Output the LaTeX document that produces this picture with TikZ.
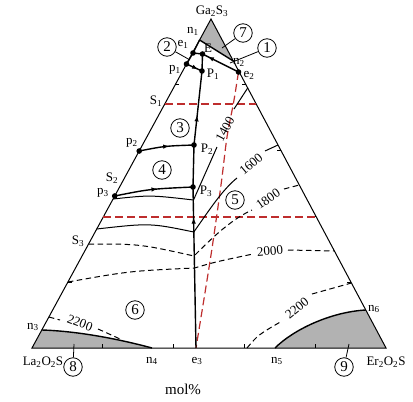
\documentclass[tikz,border=0pt]{standalone}
\usepackage{fontspec}
\setmainfont{Liberation Serif}
\usetikzlibrary{arrows.meta,calc,decorations.markings}
\definecolor{refred}{RGB}{190,45,45}

\begin{document}
\begin{tikzpicture}[x=1pt,y=-1pt,
  every node/.style={font=\fontsize{13}{13}\selectfont, inner sep=1pt},
  fld/.style={draw, circle, line width=0.8pt, inner sep=0pt, minimum size=18.5pt, font=\fontsize{15}{15}\selectfont},
  side/.style={line width=1pt},
  bnd/.style={line width=1.4pt},
  iso/.style={line width=1pt},
  isod/.style={line width=1pt, dash pattern=on 5.5pt off 3.5pt},
  refl/.style={refred, line width=1.2pt, dash pattern=on 8pt off 4pt},
  upar/.style={postaction={decorate}, decoration={markings, mark=at position #1 with {\arrow{Latex[length=6pt,width=4.5pt]}}}}]
\useasboundingbox (0,0) rectangle (413,402);

% corners and invariant points
\coordinate (Ga) at (211,19);
\coordinate (La) at (32,348);
\coordinate (Er) at (386,348);
\coordinate (n1) at (199.6,40);
\coordinate (n2) at (233.3,61);
\coordinate (e1) at (193,53);
\coordinate (E) at (202.5,54);
\coordinate (e2) at (238.5,72);
\coordinate (p1) at (186.5,64);
\coordinate (P1) at (202,71);
\coordinate (p2) at (139.2,151);
\coordinate (P2) at (194,145);
\coordinate (p3) at (114.7,196);
\coordinate (P3) at (193,187);
\coordinate (e3) at (196,348);
\coordinate (n3) at (41.8,330);
\coordinate (n4) at (152,348);
\coordinate (n5) at (275,348);
\coordinate (n6) at (365.8,310);

% grey fields
\fill[black!30] (Ga) -- (n1) -- (n2) -- cycle;
\fill[black!30] (La) -- (n3) .. controls (75,331) and (115,338) .. (n4) -- cycle;
\fill[black!30] (n5) .. controls (293,330) and (330,312) .. (n6) -- (Er) -- cycle;
\draw[bnd] (n3) .. controls (75,331) and (115,338) .. (n4);
\draw[bnd] (n5) .. controls (293,330) and (330,312) .. (n6);
\draw[bnd] (n1) -- (n2);

% triangle with ticks
\draw[side] (Ga) -- (La) -- (Er) -- cycle;
\foreach \k in {1,...,4} {
  \draw[side] ($(La)!\k/5!(Er)$) -- ++(0,-4);
  \draw[side] ($(Ga)!\k/5!(La)$) -- ++(4,0);
  \draw[side] ($(Ga)!\k/5!(Er)$) -- ++(-4,0);
}

% red sections
\coordinate (s1a) at (164.8,104);
\coordinate (s1b) at (256.2,104);
\coordinate (s3a) at (103.3,217);
\coordinate (s3b) at (316.3,217);
\draw[refl] (s1a) -- (s1b);
\draw[refl] (s3a) -- (s3b);
\draw[refl] plot[smooth] coordinates {(e2) (233.5,103) (227,137) (221,185) (211,255) (e3)};

% isotherms
\draw[iso] (113.1,199) .. controls (150,195) .. (193.5,200) -- (217,147);
\node[rotate=62] (t1400) at (225,129) {1400};
\draw[iso] (234,109) -- (247.7,88);
\draw[iso] (96.7,229) .. controls (150,223) .. (193.8,232) .. controls (208,212) and (222,190) .. (237,178);
\node[rotate=40] (t1600) at (251,164) {1600};
\draw[iso] (265,151) -- (278,145);
\draw[isod] (88.6,244) .. controls (140,244) .. (194,256) .. controls (210,240) and (230,220) .. (252,210);
\node[rotate=35] (t1800) at (268,199) {1800};
\draw[isod] (284,189) -- (299.3,185);
\draw[isod] (67.9,282) .. controls (130,271) .. (194.5,268) .. controls (215,262) .. (253,254);
\node[rotate=5] (t2000) at (270,251) {2000};
\draw[isod] (288,250) -- (334.4,251);
\draw[isod] (48.9,317) -- (60,320);
\node[rotate=-21] (t2200a) at (80,323) {2200};
\draw[isod] (98,329) .. controls (107,333) .. (120,339);
\draw[isod] (247,348) .. controls (258,335) .. (282,321);
\node[rotate=39] (t2200b) at (297,308) {2200};
\draw[isod] (312,294) -- (351.4,283);

% field boundaries
\draw[bnd, upar=0.81] (e3) -- (P3);
\draw[bnd] (P3) -- (P2);
\draw[bnd, upar=0.4] (P2) -- (P1);
\draw[bnd] (P1) -- (E);
\draw[bnd] (n1) -- (e1) -- (p1);
\draw[bnd] (e1) -- (E);
\draw[bnd, upar=0.85] (e2) -- (E);
\draw[bnd, upar=0.75] (p1) -- (P1);
\draw[bnd, upar=0.55] (p2) .. controls (165,146) .. (P2);
\draw[bnd, upar=0.55] (p3) .. controls (150,189) .. (P3);
\foreach \p in {e1,E,p1,P1,e2,p2,P2,p3,P3} \fill (\p) circle (2.8);

% field numbers
\node[fld] (f1) at (267,48) {1};
\node[fld] (f2) at (167,47) {2};
\node[fld] (f3) at (180,128) {3};
\node[fld] (f4) at (162,170) {4};
\node[fld] (f5) at (235,200) {5};
\node[fld] (f6) at (135,310) {6};
\node[fld] (f7) at (243,33) {7};
\node[fld] (f8) at (73,367) {8};
\node[fld] (f9) at (344,367) {9};
\coordinate (f1t) at (230,63);
\coordinate (f2t) at (190,60);
\coordinate (f7t) at (222,48);
\coordinate (f8t) at (74,344);
\coordinate (f9t) at (349,344);
\foreach \f in {1,2,7,8,9} \draw[line width=0.8pt] (f\f) -- (f\f t);

% labels
\node (lGa) at (212,11) {Ga\textsubscript{2}S\textsubscript{3}};
\node (ln1) at (193,31) {n\textsubscript{1}};
\node (le1) at (183,44) {e\textsubscript{1}};
\node (lE) at (208,48) {E};
\node (ln2) at (239,62) {n\textsubscript{2}};
\node (le2) at (249,75) {e\textsubscript{2}};
\node (lp1) at (175,70) {p\textsubscript{1}};
\node (lP1) at (213,74) {P\textsubscript{1}};
\node (lS1) at (156,101) {S\textsubscript{1}};
\node (lp2) at (132,143) {p\textsubscript{2}};
\node (lP2) at (207,149) {P\textsubscript{2}};
\node (lS2) at (112,178) {S\textsubscript{2}};
\node (lp3) at (103,193) {p\textsubscript{3}};
\node (lP3) at (206,191) {P\textsubscript{3}};
\node (lS3) at (78,241) {S\textsubscript{3}};
\node (ln3) at (33,327) {n\textsubscript{3}};
\node (ln4) at (152,361) {n\textsubscript{4}};
\node (le3) at (197,361) {e\textsubscript{3}};
\node (ln5) at (277,361) {n\textsubscript{5}};
\node (ln6) at (374,309) {n\textsubscript{6}};
\node (lLa) at (43,362) {La\textsubscript{2}O\textsubscript{2}S};
\node (lEr) at (386,362) {Er\textsubscript{2}O\textsubscript{2}S};
\node[font=\fontsize{15}{15}\selectfont] (lmol) at (183,389) {mol\%};
\end{tikzpicture}
\end{document}
